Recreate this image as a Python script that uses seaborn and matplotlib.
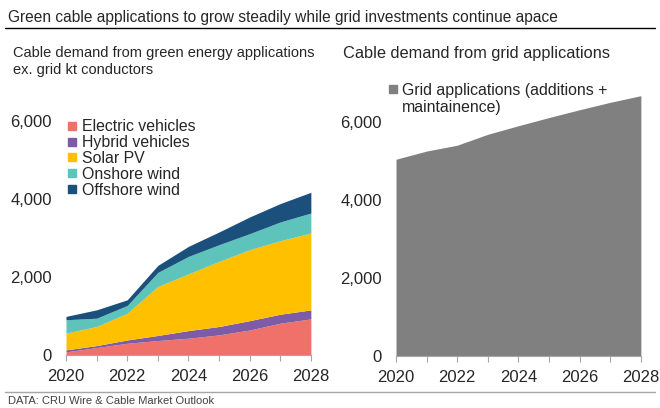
import matplotlib
matplotlib.use("Agg")
from matplotlib import pyplot as plt
from matplotlib.lines import Line2D
from matplotlib.ticker import MultipleLocator, FuncFormatter
import seaborn as sns

years = [2020, 2021, 2022, 2023, 2024, 2025, 2026, 2027, 2028]
electric = [80, 190, 300, 370, 430, 515, 640, 815, 925]
hybrid = [50, 50, 85, 130, 195, 215, 240, 230, 230]
solar = [430, 490, 685, 1257, 1455, 1670, 1820, 1885, 1973]
onshore = [343, 213, 200, 360, 448, 428, 411, 481, 512]
offshore = [86, 214, 144, 180, 257, 326, 428, 471, 532]
grid = [5040, 5250, 5400, 5680, 5900, 6110, 6310, 6500, 6670]

green_labels = ["Electric vehicles", "Hybrid vehicles", "Solar PV", "Onshore wind", "Offshore wind"]
green_colours = ["#F0706A", "#7D5BA6", "#FFC000", "#5EC3BB", "#1B4F7C"]
grid_label = ["Grid applications (additions +", "maintainence)"]
grid_colour = "#808080"

sns.set_theme(style="white")
plt.rcParams['font.family'] = ['Liberation Sans', 'DejaVu Sans']

fig = plt.figure(figsize=(6.6, 4.08), dpi=100)


def style_axis(ax):
    ax.set_xlim(2020, 2028)
    ax.set_ylim(0, 7000)
    ax.xaxis.set_major_locator(MultipleLocator(2))
    ax.xaxis.set_minor_locator(MultipleLocator(1))
    ax.yaxis.set_major_locator(MultipleLocator(2000))
    ax.yaxis.set_major_formatter(FuncFormatter(lambda v, p: f"{int(v):,}"))
    ax.tick_params(axis="x", which="both", direction="out", length=4, width=0.8,
                   color="#A6A6A6", bottom=True, labelsize=12, pad=6)
    ax.tick_params(axis="y", length=0, labelsize=12, pad=10)
    sns.despine(ax=ax, left=True)
    ax.spines["bottom"].set_color("#A6A6A6")
    ax.spines["bottom"].set_linewidth(0.8)
    ax.set_facecolor("none")


# left: stacked green applications
ax1 = fig.add_axes([0.1, 0.13, 0.371, 0.669])
ax1.stackplot(years, electric, hybrid, solar, onshore, offshore,
              colors=green_colours, labels=green_labels, linewidth=0)
style_axis(ax1)
h1 = [Line2D([], [], marker="s", linestyle="none", markersize=6, color=c) for c in green_colours]
ax1.legend(h1, green_labels, loc="upper left", bbox_to_anchor=(0.003, 0.864), frameon=False,
           fontsize=11.4, handlelength=0.7, handletextpad=0.25, labelspacing=0.06,
           borderpad=0, borderaxespad=0)

# right: grid applications
ax2 = fig.add_axes([0.6, 0.128, 0.371, 0.669])
ax2.fill_between(years, grid, color=grid_colour, linewidth=0)
style_axis(ax2)
h2 = [Line2D([], [], marker="s", linestyle="none", markersize=6, color=grid_colour)]
ax2.legend(h2, [grid_label[0]], loc="upper left", bbox_to_anchor=(-0.035, 1.0), frameon=False,
           fontsize=11.4, handlelength=0.7, handletextpad=0.25, borderpad=0, borderaxespad=0)
ax2.text(0.025, 0.91, grid_label[1], transform=ax2.transAxes, fontsize=11.4,
         va="center", ha="left")

fig.text(0.012, 0.958, "Green cable applications to grow steadily while grid investments continue apace",
         fontsize=11.2, va="center", ha="left")
fig.add_artist(Line2D([0.008, 0.992], [0.931, 0.931], color="black", linewidth=1))
fig.text(0.019, 0.85, "Cable demand from green energy applications\nex. grid kt conductors",
         fontsize=10.5, va="center", ha="left", linespacing=1.25)
fig.text(0.52, 0.87, "Cable demand from grid applications",
         fontsize=11.8, va="center", ha="left")
fig.add_artist(Line2D([0.008, 0.992], [0.039, 0.039], color="#A6A6A6", linewidth=1))
fig.text(0.012, 0.017, "DATA: CRU Wire & Cable Market Outlook",
         fontsize=8, va="center", ha="left", color="#404040")

fig.savefig("out.png", dpi=100)
